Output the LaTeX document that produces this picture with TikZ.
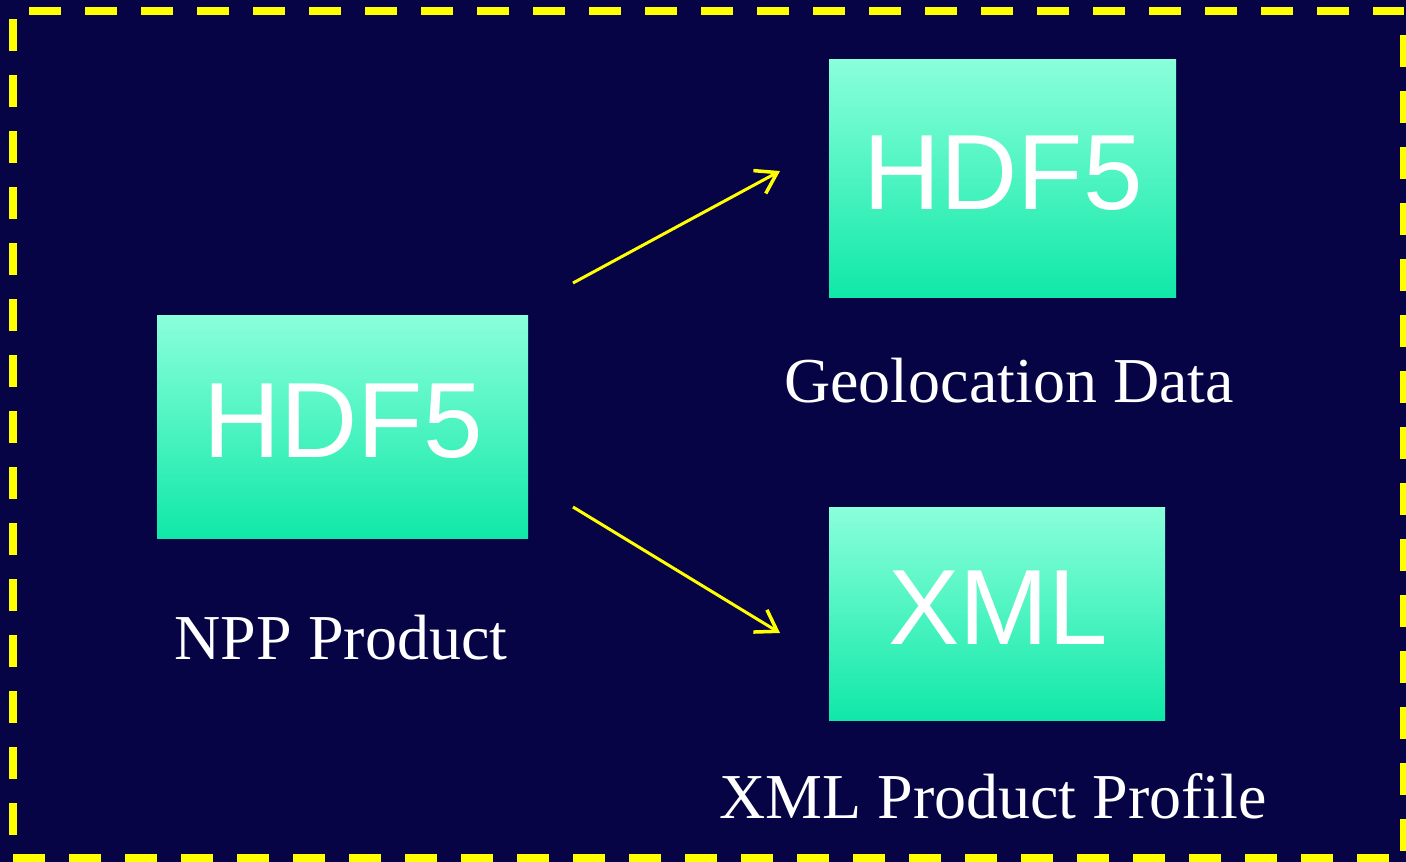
\documentclass[tikz,border=0pt]{standalone}
\usepackage{fontspec}
\setmainfont{Liberation Serif}
\newfontfamily\arialfont{Liberation Sans}
\usetikzlibrary{arrows.meta}
\definecolor{bgnavy}{HTML}{060444}
\definecolor{gtop}{HTML}{8AFFDA}
\definecolor{gbot}{HTML}{10E8A8}
\definecolor{ylw}{HTML}{FFFF00}
\begin{document}
\begin{tikzpicture}[x=1pt,y=-1pt,
  box/.style={draw=none,top color=gtop,bottom color=gbot,inner sep=0pt},
  boxtext/.style={text=white,font=\arialfont\fontsize{107}{107}\selectfont,anchor=center},
  lbl/.style={text=white,font=\fontsize{64}{64}\selectfont,anchor=base},
  brd/.style={draw=ylw,line width=8pt,line cap=butt,dash pattern=on 32pt off 24pt},
  arr/.style={draw=ylw,line width=3pt,-{Straight Barb[length=20pt,width=26pt,line width=3.5pt]}}]
\useasboundingbox (0,0) rectangle (1406,862);
\fill[bgnavy] (0,0) rectangle (1406,862);
% border
\coordinate (tl) at (13,11);
\coordinate (tr) at (1404,11);
\coordinate (bl) at (13,858);
\coordinate (br) at (1404,858);
\draw[brd,dash phase=40pt] (tl) -- (tr);
\draw[brd,dash phase=48pt] (tl) -- (bl);
\draw[brd,dash phase=32pt] (tr) -- (br);
\draw[brd,dash phase=0pt] (bl) -- (br);
% boxes
\shade[box] (157,315) rectangle (528,538);
\shade[box] (829,59) rectangle (1176,297);
\shade[box] (829,507) rectangle (1165,720);
\node[boxtext] (h1) at (343,421) {HDF5};
\node[boxtext] (h2) at (1003,173) {HDF5};
\node[boxtext] (x1) at (998,608) {XML};
% labels
\node[lbl] (l1) at (341,659) {NPP Product};
\node[lbl] (l2) at (1009,402) {Geolocation Data};
\node[lbl] (l3) at (993,818) {XML Product Profile};
% arrows
\coordinate (a1s) at (573,283);
\coordinate (a1e) at (780,171);
\coordinate (a2s) at (573,507);
\coordinate (a2e) at (780,633);
\draw[arr] (a1s) -- (a1e);
\draw[arr] (a2s) -- (a2e);
\end{tikzpicture}
\end{document}
